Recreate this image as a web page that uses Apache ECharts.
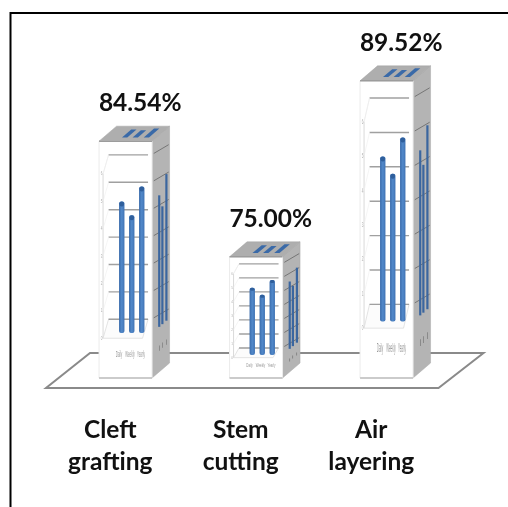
<!DOCTYPE html>
<html>
<head>
<meta charset="utf-8">
<style>html,body{margin:0;padding:0;background:#fff}#chart{width:508px;height:507px}</style>
<script src="https://cdn.jsdelivr.net/npm/echarts@6/dist/echarts.min.js"></script>
</head>
<body>
<div id="chart"></div>
<script>
// Success rate per propagation method
const categories = ['Cleft\ngrafting', 'Stem\ncutting', 'Air\nlayering'];
const successRates = [84.54, 75.00, 89.52];

// Small clustered chart printed on the faces of every column
const insetValues = [4.8, 4.3, 5.35];
const insetLabels = ['Daily', 'Weekly', 'Yearly'];
const insetTicks = ['6', '5', '4', '3', '2', '1', '0'];

const FONT = 'Lato, "Open Sans", sans-serif';
const COL_W = 53, DEPTH_X = 17.5, DEPTH_Y = 15, COL_SHIFT = 15.3, LABEL_SHIFT = 30;
const BLUE_DARK = '#2f5f9c';

// Fractions of the column height used by the inset chart
const GRID_TOP = 0.058, GRID_STEP = 0.1157, BAR_BASE = 0.81, TEXT_Y = 0.9;

function poly(points, style, extra) {
  return Object.assign({ type: 'polygon', shape: { points }, style, silent: true }, extra || {});
}
function line(x1, y1, x2, y2, stroke, lineWidth) {
  return { type: 'line', shape: { x1, y1, x2, y2 }, style: { stroke, lineWidth }, silent: true };
}
function squeezed(content, x, y, sx, sy, fontSize, fill) {
  return {
    type: 'text', x, y, scaleX: sx, scaleY: sy, silent: true,
    style: { text: content, x: 0, y: 0, fontSize, fontFamily: 'Liberation Sans, sans-serif',
             fill, align: 'center', verticalAlign: 'middle' }
  };
}

function renderFloor(params, api) {
  const cs = params.coordSys;
  const front = cs.y + cs.height + 10, back = cs.y + cs.height - 25;
  return poly(
    [[cs.x + 1, front], [cs.x + cs.width + 2, front], [cs.x + cs.width + 47, back], [cs.x + 45, back]],
    { fill: '#ffffff', stroke: '#8a8a8a', lineWidth: 2 }
  );
}

function renderColumn(params, api) {
  const top = api.coord([api.value(0), api.value(1)]);
  const base = api.coord([api.value(0), 65]);
  const x0 = top[0] + COL_SHIFT - COL_W / 2, x1 = x0 + COL_W;
  const yT = top[1], yB = base[1], h = yB - yT;
  const fy = f => yT + f * h;
  const kids = [];

  // Column faces
  kids.push(poly([[x1, yT], [x1 + DEPTH_X, yT - DEPTH_Y], [x1 + DEPTH_X, yB - DEPTH_Y], [x1, yB]],
    { fill: '#b4b4b4', stroke: '#a8a8a8', lineWidth: 0.5 }));
  kids.push(poly([[x0, yT], [x1, yT], [x1 + DEPTH_X, yT - DEPTH_Y], [x0 + DEPTH_X, yT - DEPTH_Y]],
    { fill: '#aeaeae', stroke: '#a4a4a4', lineWidth: 0.5 }));
  kids.push({ type: 'rect', shape: { x: x0, y: yT, width: COL_W, height: h },
    style: { fill: '#ffffff', stroke: '#ececec', lineWidth: 1 }, silent: true });
  kids.push(line(x0, yB, x1, yB, '#bdbdbd', 1.5));
  kids.push(line(x0, yT, x1, yT, '#9c9c9c', 1.5));

  // Inset bars seen on the top face
  insetValues.forEach((v, i) => {
    const a = x0 + COL_W * [0.35, 0.55, 0.76][i], w = COL_W * 0.1;
    const d0 = 0.25, d1 = 0.25 + v * 0.11;
    kids.push(poly([
      [a + d0 * DEPTH_X, yT - d0 * DEPTH_Y], [a + w + d0 * DEPTH_X, yT - d0 * DEPTH_Y],
      [a + w + d1 * DEPTH_X, yT - d1 * DEPTH_Y], [a + d1 * DEPTH_X, yT - d1 * DEPTH_Y]
    ], { fill: '#3a6aa8' }));
  });

  // Inset chart on the front face: back wall, floor and gridlines
  const gx0 = x0 + 9.5, gx1 = x0 + 49, slantX = 5.5, slantF = 0.08;
  const gridBottom = GRID_TOP + GRID_STEP * 6;
  kids.push(line(gx0, fy(GRID_TOP), gx0 - slantX, fy(GRID_TOP + slantF), '#e8e8e8', 0.7));
  kids.push(line(gx0 - slantX, fy(GRID_TOP + slantF), gx0 - slantX, fy(gridBottom + slantF), '#cfcfcf', 0.8));
  kids.push(poly([
    [gx0, fy(gridBottom)], [gx1, fy(gridBottom)], [gx1 - slantX, fy(gridBottom + slantF)], [gx0 - slantX, fy(gridBottom + slantF)]
  ], { fill: '#fcfcfc', stroke: '#d8d8d8', lineWidth: 0.7 }));
  insetTicks.forEach((t, i) => {
    const f = GRID_TOP + GRID_STEP * i;
    kids.push(line(gx0, fy(f), gx1, fy(f), '#a0a0a0', 1.4));
    if (i > 0) kids.push(line(gx0, fy(f - GRID_STEP), gx0 - slantX, fy(f - GRID_STEP + slantF), '#eeeeee', 0.6));
    kids.push(squeezed(t, gx0 - slantX - 1.5, fy(f + slantF), 0.5, h / 300 + 0.2, 6, '#b0b0b0'));
  });

  // Inset bars on the front face
  insetValues.forEach((v, i) => {
    const bx = x0 + 20 + i * 10, bw = 5.4;
    const bTop = fy(BAR_BASE - v * GRID_STEP);
    kids.push({ type: 'rect', shape: { x: bx, y: bTop, width: bw, height: fy(BAR_BASE) - bTop, r: 2 },
      style: { fill: { type: 'linear', x: 0, y: 0, x2: 1, y2: 0, colorStops: [
        { offset: 0, color: '#3a6bab' }, { offset: 0.5, color: '#5289ca' }, { offset: 1, color: '#3f72b3' }] } },
      silent: true });
    kids.push({ type: 'rect', shape: { x: bx + 0.5, y: bTop, width: bw - 1, height: Math.min(5, h * 0.025), r: 2 },
      style: { fill: BLUE_DARK }, silent: true });
    kids.push(squeezed(insetLabels[i], x0 + 20 + i * 11, fy(TEXT_Y), 0.45, h * 0.038 / 6, 6.5, '#999999'));
  });

  // Same inset chart sheared onto the side face
  const side = (u, f) => [x1 + u * DEPTH_X, fy(f) - u * DEPTH_Y];
  insetTicks.forEach((t, i) => {
    const f = GRID_TOP + GRID_STEP * i;
    const a = side(0.1, f), b = side(0.95, f);
    kids.push(line(a[0], a[1], b[0], b[1] + 4, '#767676', 1));
  });
  insetValues.forEach((v, i) => {
    const u = [0.41, 0.59, 0.82][i];
    const a = side(u, BAR_BASE), b = side(u, BAR_BASE - v * GRID_STEP);
    kids.push(line(a[0], a[1], b[0], b[1], '#3b669f', 2.2));
    const s = side(u, TEXT_Y);
    kids.push(squeezed('▮', s[0], s[1], 0.35, h * 0.03 / 6, 6, '#808080'));
  });

  // Value label above the column
  kids.push({
    type: 'text', x: top[0] + LABEL_SHIFT, y: yT - DEPTH_Y - 23, silent: true,
    style: { text: api.value(1).toFixed(2) + '%', fontFamily: FONT, fontWeight: 700, fontSize: 24.5,
             fill: '#111111', align: 'center', verticalAlign: 'middle' }
  });

  return { type: 'group', children: kids };
}

const chart = echarts.init(document.getElementById('chart'), null, { renderer: 'canvas' });
chart.setOption({
  animation: false,
  backgroundColor: '#ffffff',
  grid: { left: 45, width: 391.5, top: 75, height: 303 },
  xAxis: {
    type: 'category', data: categories,
    axisLine: { show: false }, axisTick: { show: false },
    axisLabel: { margin: 36, fontFamily: FONT, fontWeight: 700, fontSize: 24.5, lineHeight: 32, color: '#111111', interval: 0 }
  },
  yAxis: { type: 'value', min: 65, max: 90, show: false },
  graphic: [{
    type: 'polyline', silent: true, z: 10,
    shape: { points: [[10.5, 507], [10.5, 13], [508, 13]] },
    style: { stroke: '#000000', lineWidth: 2, fill: null }
  }],
  series: [
    { type: 'custom', coordinateSystem: 'cartesian2d', data: [[0, 65]], renderItem: renderFloor, clip: false, silent: true, z: 1 },
    { type: 'custom', coordinateSystem: 'cartesian2d', clip: false, silent: true, z: 2,
      data: successRates.map((v, i) => [i, v]),
      encode: { x: 0, y: 1 }, renderItem: renderColumn }
  ]
});
</script>
</body>
</html>
